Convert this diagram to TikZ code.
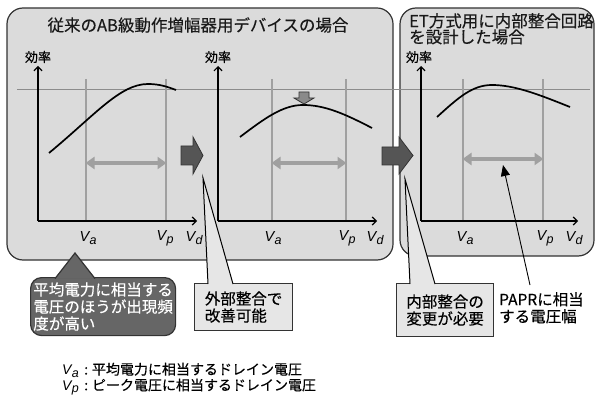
\documentclass[tikz,border=0pt]{standalone}
\usepackage{fontspec}
\setmainfont{Noto Sans CJK JP}[FakeBold=0.3]
\newfontfamily\latinf{Liberation Sans}
\usetikzlibrary{arrows.meta}
\definecolor{panelfill}{gray}{0.86}
\definecolor{edge}{HTML}{333333}
\definecolor{gridc}{HTML}{A0A0A0}
\definecolor{hlinec}{HTML}{8C8C8C}
\definecolor{rangec}{HTML}{A0A0A0}
\definecolor{blockc}{HTML}{555555}
\definecolor{downc}{HTML}{8A8A8A}
\definecolor{darkcall}{HTML}{666666}
\definecolor{lightcall}{HTML}{E6E6E6}
\newcommand\Vl[1]{{\latinf\itshape V\kern0.3pt\raisebox{-0.35ex}{\fontsize{12.5}{12}\selectfont #1}}}
\tikzset{
  panel/.style={draw=edge, line width=1.2pt, fill=panelfill, rounded corners=16pt},
  gridline/.style={draw=gridc, line width=1.1pt},
  axis/.style={draw=black, line width=1.2pt, -{Straight Barb[length=4pt,width=8pt]}},
  curve/.style={draw=black, line width=1.7pt},
  rangearrow/.style={draw=rangec, line width=3.5pt, {Triangle[length=9pt,width=12pt]}-{Triangle[length=9pt,width=12pt]}, shorten <=-0.5pt, shorten >=-0.5pt},
  blockarrow/.style={fill=blockc, draw=edge, line width=0.8pt},
  effl/.style={font=\fontsize{13}{15}\selectfont},
  vlab/.style={font=\fontsize{14.5}{16}\selectfont},
  ttl/.style={font=\fontsize{16.5}{18}\selectfont, text=black!90, align=left},
  callbox/.style={draw=edge, line width=1.2pt, fill=lightcall, inner sep=0pt, align=left, font=\fontsize{15.5}{17}\selectfont},
  wedge/.style={fill=lightcall},
  wedgeedge/.style={draw=black, line width=1pt},
}
\begin{document}
\begin{tikzpicture}[x=1pt,y=-1pt]
\useasboundingbox (0,0) rectangle (596,403);
% panels
\draw[panel] (7,8) rectangle (393,260);
\draw[panel] (400,8) rectangle (594,256);
\node[ttl] (t1) at (198,25) {従来のAB級動作増幅器用デバイスの場合};
\node[ttl, anchor=north west, inner sep=0pt] (t2) at (409,13) {ET方式用に内部整合回路\\[-2pt]を設計した場合};
% horizontal reference line
\coordinate (hl0) at (17,89);
\coordinate (hl1) at (590,89);
\draw[draw=hlinec, line width=0.9pt] (hl0) -- (hl1);
% grid lines
\foreach \x/\n in {86/a1,166/p1,272/a2,346/p2,463/a3,543/p3}{
  \coordinate (top\n) at (\x,79);
  \coordinate (bot\n) at (\x,221);
  \draw[gridline] (top\n) -- (bot\n);
}
% axes
\foreach \x/\e/\n in {38/197/1,218/377/2,421/578/3}{
  \coordinate (o\n) at (\x,221);
  \coordinate (yt\n) at (\x,66);
  \coordinate (xt\n) at (\e,221);
  \draw[axis] (o\n) -- (yt\n);
  \draw[axis] (o\n) -- (xt\n);
}
\node[effl] (e1) at (38,57) {効率};
\node[effl] (e2) at (218,57) {効率};
\node[effl] (e3) at (419,57) {効率};
% V labels
\node[vlab] (va1) at (88,238) {\Vl{a}};
\node[vlab] (vp1) at (165,238) {\Vl{p}};
\node[vlab] (vd1) at (194,238) {\Vl{d}};
\node[vlab] (va2) at (273,238) {\Vl{a}};
\node[vlab] (vp2) at (347,238) {\Vl{p}};
\node[vlab] (vd2) at (375,238) {\Vl{d}};
\node[vlab] (va3) at (465,238) {\Vl{a}};
\node[vlab] (vp3) at (545,238) {\Vl{p}};
\node[vlab] (vd3) at (574,238) {\Vl{d}};
% curves
\draw[curve] (49,153) .. controls (95,115) and (120,84) .. (148,84) .. controls (160,84) and (168,87) .. (176,90);
\draw[curve] (240,137) .. controls (265,118) and (283,105) .. (303,105) .. controls (325,105) and (345,114) .. (372,128);
\draw[curve] (437,117) .. controls (458,98) and (472,85) .. (492,85) .. controls (515,85) and (540,95) .. (570,107);
% range arrows
\coordinate (r1a) at (86,163); \coordinate (r1b) at (166,163);
\coordinate (r2a) at (272,163); \coordinate (r2b) at (346,163);
\coordinate (r3a) at (463,159); \coordinate (r3b) at (543,159);
\draw[rangearrow] (r1a) -- (r1b);
\draw[rangearrow] (r2a) -- (r2b);
\draw[rangearrow] (r3a) -- (r3b);
% down arrow
\draw[fill=downc, draw=edge, line width=0.8pt] (299,92) -- (309,92) -- (309,98) -- (314,98) -- (304,104) -- (294,98) -- (299,98) -- cycle;
% block arrows
\draw[blockarrow] (181,146) -- (193,146) -- (193,137) -- (203,155.5) -- (193,174) -- (193,165) -- (181,165) -- cycle;
\draw[blockarrow] (382,147) -- (399,147) -- (399,137) -- (413,155.5) -- (399,174) -- (399,165) -- (382,165) -- cycle;
% callout 1 (dark)
\node[draw=edge, line width=1.2pt, fill=darkcall, rounded corners=11pt, minimum width=145pt, minimum height=58pt, anchor=north west, text=white, align=left, font=\fontsize{15.5}{17}\selectfont, inner sep=0pt] (c1) at (30,277) {平均電力に相当する\\電圧のほうが出現頻\\度が高い};
\coordinate (c1tip) at (75,253);
\coordinate (c1l) at (55,278.6);
\coordinate (c1r) at (95,278.6);
\fill[darkcall] (c1l) -- (c1tip) -- (c1r) -- cycle;
\draw[draw=edge, line width=1.2pt] (c1l) -- (c1tip) -- (c1r);
% callout 2
\node[callbox, minimum width=98pt, minimum height=47pt, anchor=north west] (c2) at (194,283) {外部整合で\\改善可能};
\coordinate (c2tip) at (203,178);
\coordinate (c2l) at (208,284);
\coordinate (c2r) at (233,284);
\fill[wedge] (c2l) -- (c2tip) -- (c2r) -- cycle;
\draw[wedgeedge] (c2l) -- (c2tip) -- (c2r);
% callout 3
\node[callbox, minimum width=97pt, minimum height=53pt, anchor=north west] (c3) at (396,283) {内部整合の\\変更が必要};
\coordinate (c3tip) at (405,179);
\coordinate (c3l) at (410,284);
\coordinate (c3r) at (435,284);
\fill[wedge] (c3l) -- (c3tip) -- (c3r) -- cycle;
\draw[wedgeedge] (c3l) -- (c3tip) -- (c3r);
% PAPR label
\node[anchor=north west, align=left, inner sep=0pt, font=\fontsize{15.5}{17}\selectfont] (papr) at (499,292) {PAPRに相当\\する電圧幅};
\coordinate (paprs) at (530,285);
\coordinate (paprt) at (503,165);
\draw[line width=0.9pt, -{Triangle[length=11pt,width=9pt]}] (paprs) -- (paprt);
% legend
\node[anchor=west, inner sep=0pt, font=\fontsize{14}{16}\selectfont] (lg1) at (62,370) {\Vl{a}\:\,:\;平均電力に相当するドレイン電圧};
\node[anchor=west, inner sep=0pt, font=\fontsize{14}{16}\selectfont] (lg2) at (62,387) {\Vl{p}\:\,:\;ピーク電圧に相当するドレイン電圧};
\end{tikzpicture}
\end{document}
